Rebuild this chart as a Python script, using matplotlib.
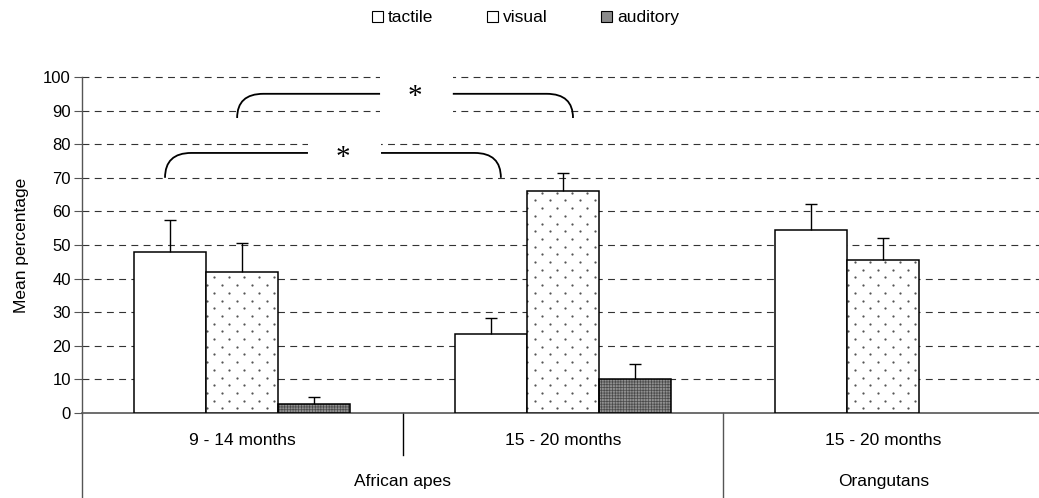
import numpy as np
import matplotlib
matplotlib.use('Agg')
import matplotlib.pyplot as plt
import matplotlib.transforms as mtransforms
from matplotlib.path import Path
from matplotlib.patches import PathPatch, Rectangle, Patch

plt.rcParams['font.family'] = ['Liberation Sans', 'DejaVu Sans']
plt.rcParams['hatch.linewidth'] = 0.5

# ---- data ----
age_groups = ['9 - 14 months', '15 - 20 months', '15 - 20 months']
species = ['African apes', 'Orangutans']
species_spans = [(0, 2), (2, 3)]
series = ['tactile', 'visual', 'auditory']
tactile = [47.8, 23.4, 54.5]
tactile_err = [9.6, 5.0, 7.7]
visual = [42.1, 66.1, 45.5]
visual_err = [8.4, 5.4, 6.6]
auditory = [2.6, 10.1, np.nan]
auditory_err = [2.2, 4.4, np.nan]
y_ticks = [0, 10, 20, 30, 40, 50, 60, 70, 80, 90, 100]
# significance brackets: (x_left, x_right, y_bottom, y_top, gap_left, gap_right)
brackets = [(0.259, 1.307, 70, 77.4, 0.705, 0.933),
            (0.484, 1.532, 87.8, 95.0, 0.930, 1.157)]

FS = 12.5
W, H = 1039, 498
fig = plt.figure(figsize=(W / 100, H / 100), dpi=100)
ax = fig.add_axes([82 / W, 85 / H, 957 / W, 336 / H])

n = len(age_groups)
x = np.arange(n) + 0.5
w = 0.2246
ax.set_xlim(0, 957 / 320.5)
ax.set_ylim(0, 100)
px_x = 1 / 320.5   # data units per pixel (x)
px_y = 100 / 336   # data units per pixel (y)


def add_errors(xpos, vals, errs):
    vals = np.asarray(vals, dtype=float)
    errs = np.asarray(errs, dtype=float)
    ax.vlines(xpos, vals, vals + errs, color='black', lw=1.0, zorder=4)
    ax.plot(xpos, vals + errs, linestyle='none', marker='_', ms=8, mew=1.0,
            color='black', zorder=4)


# tactile
ax.bar(x - w, tactile, w, facecolor='white', edgecolor='black', linewidth=1.1, zorder=3)
add_errors(x - w, tactile, tactile_err)

# visual (dotted texture)
vbars = ax.bar(x, visual, w, facecolor='white', edgecolor='none', linewidth=0, zorder=3)
dx, dy = 15 * px_x, 7.7 * px_y
for rect in vbars.patches:
    x0, hgt = rect.get_x(), rect.get_height()
    if not np.isfinite(hgt):
        continue
    rows = np.arange(dy * 0.6, hgt, dy)
    pts = []
    for i, yy in enumerate(rows):
        off = 0.0015 + (dx / 2 if i % 2 else 0)
        for xx in np.arange(x0 + off, x0 + w, dx):
            pts.append((xx, yy))
    pts = np.array(pts)
    sc = ax.scatter(pts[:, 0], pts[:, 1], s=2.6, marker='o', color='#555555',
                    linewidths=0, zorder=3.2)
    sc.set_clip_path(rect)
ax.bar(x, visual, w, fill=False, edgecolor='black', linewidth=1.1, zorder=3.5)
add_errors(x, visual, visual_err)

# auditory
ax.bar(x + w, auditory, w, facecolor='#909090', edgecolor='#4a4a4a', linewidth=0,
       hatch='++++++', zorder=3)
ax.bar(x + w, auditory, w, fill=False, edgecolor='black', linewidth=1.1, zorder=3.5)
add_errors(x + w, auditory, auditory_err)

# grid
ax.set_yticks(y_ticks)
for yv in y_ticks[1:]:
    ax.axhline(yv, color='#333333', lw=0.8, dashes=(6.2, 4.8), zorder=1, clip_on=False)

for s in ['top', 'right']:
    ax.spines[s].set_visible(False)
ax.spines['left'].set_color('#555555')
ax.spines['bottom'].set_color('#555555')
ax.spines['left'].set_linewidth(1.0)
ax.spines['bottom'].set_linewidth(1.2)
ax.tick_params(axis='y', length=6, width=0.8, color='#555555', labelsize=FS - 0.5, pad=2)
ax.set_xticks([])
ax.set_ylabel('Mean percentage', fontsize=FS)
ax.yaxis.set_label_coords(-0.055, 0.5)

# brackets
for (xl, xr, yb, yt, gl, gr) in brackets:
    r = 0.082
    verts = [(xl, yb), (xl, yt), (xl + r, yt), (gl, yt)]
    codes = [Path.MOVETO, Path.CURVE3, Path.CURVE3, Path.LINETO]
    ax.add_patch(PathPatch(Path(verts, codes), fill=False, lw=1.3, color='black', zorder=6,
                           capstyle='butt'))
    verts = [(gr, yt), (xr - r, yt), (xr, yt), (xr, yb)]
    codes = [Path.MOVETO, Path.LINETO, Path.CURVE3, Path.CURVE3]
    ax.add_patch(PathPatch(Path(verts, codes), fill=False, lw=1.3, color='black', zorder=6,
                           capstyle='butt'))
# white boxes behind stars
ax.add_patch(Rectangle((0.705, 73), 0.228, 10, facecolor='white', edgecolor='none', zorder=2))
ax.add_patch(Rectangle((0.930, 85), 0.227, 17, facecolor='white', edgecolor='none', zorder=2,
                       clip_on=False))
ax.text(0.814, 76.0, '*', fontsize=21, family='Liberation Serif', ha='center', va='center', zorder=7)
ax.text(1.039, 94.0, '*', fontsize=21, family='Liberation Serif', ha='center', va='center', zorder=7)

# category axis
trans = mtransforms.blended_transform_factory(ax.transData, ax.transAxes)
for xi, lab in zip(x, age_groups):
    ax.text(xi, -0.083, lab, transform=trans, ha='center', va='center', fontsize=FS)
for (a, b), lab in zip(species_spans, species):
    ax.text((a + b) / 2, -0.205, lab, transform=trans, ha='center', va='center', fontsize=FS)
bottom = -85 / 336
for xs, yb in [(0, bottom), (1, -42 / 336), (2, bottom)]:
    ax.plot([xs, xs], [0, yb], transform=trans, color='#555555' if xs != 1 else 'black',
            lw=1.0, clip_on=False)

# legend
handles = [Patch(facecolor='white', edgecolor='black', lw=0.8),
           Patch(facecolor='white', edgecolor='black', lw=0.8),
           Patch(facecolor='#8a8a8a', edgecolor='black', lw=0.8)]
fig.legend(handles, series, loc='upper center', bbox_to_anchor=(0.506, 1.0), ncol=3,
           frameon=False, fontsize=FS, handlelength=0.6, handleheight=0.6,
           handletextpad=0.3, columnspacing=3.1, borderaxespad=0.2)

fig.savefig('out.png', dpi=100)
